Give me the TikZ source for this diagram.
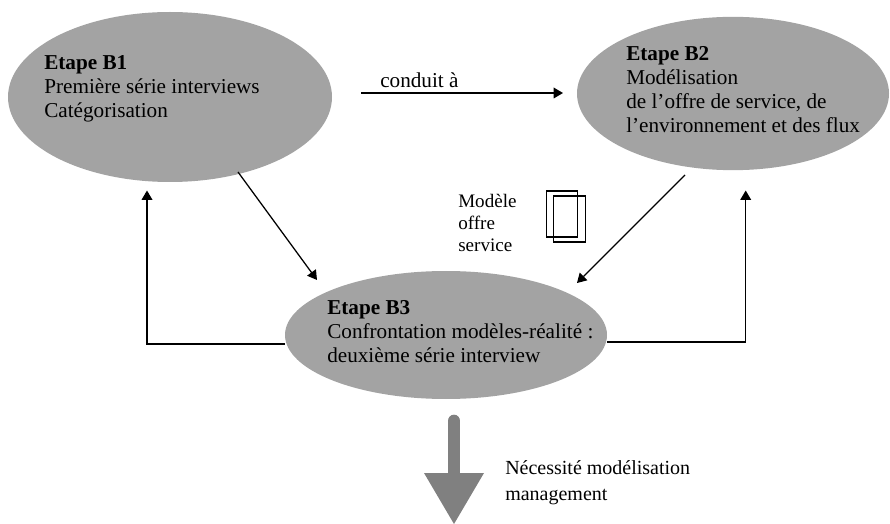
\documentclass[tikz,border=0pt]{standalone}
\usepackage{fontspec}
\setmainfont{Liberation Serif}
\usetikzlibrary{arrows.meta,shapes.geometric}
\definecolor{blobgray}{gray}{0.64}
\definecolor{arrowgray}{gray}{0.50}
\tikzset{
  x=0.75pt,y=-0.75pt,
  blob/.style={ellipse,fill=blobgray,draw=none,inner sep=0pt},
  lbl/.style={anchor=north west,inner sep=0pt,align=left,font=\fontsize{15.9pt}{18pt}\selectfont},
  small/.style={anchor=north west,inner sep=0pt,align=left,font=\fontsize{14.3pt}{16.5pt}\selectfont},
  conn/.style={draw=black,line width=0.95pt,-{Triangle[length=7pt,width=8pt]}},
  doc/.style={draw=black,line width=0.95pt,fill=none,inner sep=0pt,minimum width=23.5pt,minimum height=34.5pt}
}
\begin{document}
\begin{tikzpicture}
\useasboundingbox (0,0) rectangle (890,524);
\node[blob,minimum width=243pt,minimum height=127.5pt] (b1) at (170,97) {};
\node[blob,minimum width=234pt,minimum height=115pt] (b2) at (733,93.5) {};
\node[blob,minimum width=241.5pt,minimum height=96pt] (b3) at (446,335) {};
\node[lbl] (t1) at (44,55.5) {\textbf{Etape B1}\\Première série interviews\\Catégorisation};
\node[lbl] (t2) at (626,46.5) {\textbf{Etape B2}\\Modélisation\\de l’offre de service, de\\l’environnement et des flux};
\node[lbl] (t3) at (327,300.5) {\textbf{Etape B3}\\Confrontation modèles-réalité :\\deuxième série interview};
\node[lbl] (t4) at (380,72.5) {conduit à};
\node[small] (t5) at (458,194) {Modèle\\offre\\service};
\node[lbl,font=\fontsize{15pt}{19.5pt}\selectfont] (t6) at (505,460.4) {Nécessité modélisation\\management};
\node[doc] (d1) at (562,214) {};
\node[doc] (d2) at (569.5,219) {};
\coordinate (a1) at (361,93);
\coordinate (a2) at (563,93);
\coordinate (a3) at (238,172);
\coordinate (a4) at (317,280);
\coordinate (a5) at (685,175);
\coordinate (a6) at (577,283);
\coordinate (a7) at (285,344);
\coordinate (a8) at (147,344);
\coordinate (a9) at (147,190.5);
\coordinate (a10) at (607,342);
\coordinate (a11) at (745.7,342);
\coordinate (a12) at (745.7,190.5);
\draw[conn] (a1) -- (a2);
\draw[conn] (a3) -- (a4);
\draw[conn] (a5) -- (a6);
\draw[conn] (a7) -- (a8) -- (a9);
\draw[conn] (a10) -- (a11) -- (a12);
\coordinate (s1) at (454,421);
\coordinate (s2) at (454,474);
\coordinate (h1) at (424,473);
\coordinate (h2) at (484,473);
\coordinate (h3) at (454,524);
\draw[arrowgray,line width=9.5pt,line cap=round] (s1) -- (s2);
\fill[arrowgray] (h1) -- (h2) -- (h3) -- cycle;
\end{tikzpicture}
\end{document}
